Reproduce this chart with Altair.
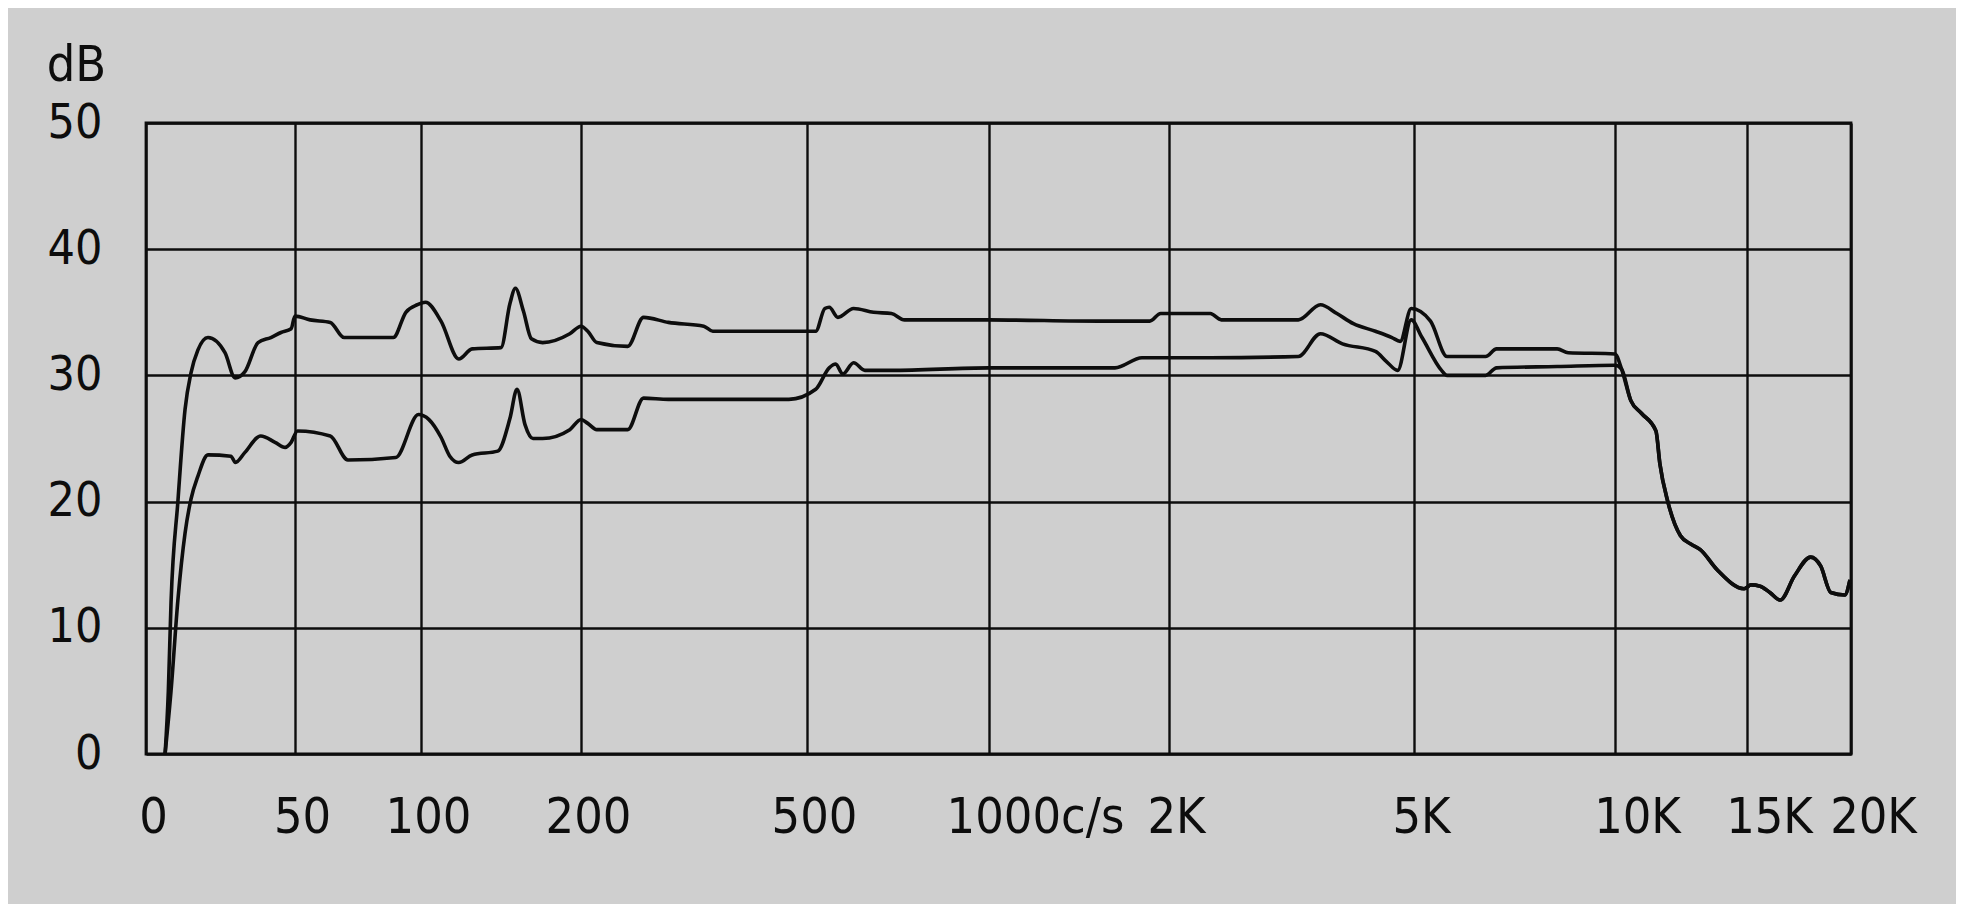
import altair as alt
import pandas as pd

# ---- data (frequency in Hz, level in dB) ----
upper_freq = [6.4, 7.5, 8.4, 10.7, 13.1, 15.1, 17.4, 20.8, 26.5, 29.9, 33.2, 37.6, 41.9, 45.3, 48.7,
              50, 56, 64, 69.5, 89, 94, 98.6, 102.8, 112.5, 123.6, 132, 150, 155.6, 159, 164, 169,
              176, 193, 200, 209, 221, 262, 283, 316, 363, 375, 524, 549, 561, 585, 628, 683, 732,
              768, 1000, 1612, 1893, 1954, 2506, 2640, 3584, 3854, 4056, 4258, 4528, 4730, 4831,
              4966, 5411, 5822, 6781, 7055, 8562, 8836, 10000]
upper_db = [0, 5, 12, 20, 27.3, 30.2, 32, 33, 31.8, 29.8, 30.3, 32.6, 33, 33.4, 33.7,
            34.7, 34.4, 34.2, 33, 33, 35, 35.6, 35.8, 34.3, 31.3, 32.1, 32.2, 35.7, 36.9, 35.1, 32.9,
            32.6, 33.3, 33.9, 33.5, 32.6, 32.3, 34.6, 34.2, 33.9, 33.5, 33.5, 35.3, 35.4, 34.6, 35.3, 35.0, 34.9,
            34.4, 34.4, 34.3, 34.3, 34.9, 34.9, 34.4, 34.4, 35.6, 34.9, 34.1, 33.5, 33.0, 32.7,
            35.3, 34.3, 31.5, 31.5, 32.1, 32.1, 31.8, 31.7]

lower_freq = [6.4, 8.4, 10.7, 13.1, 15.1, 17.4, 20.8, 28.5, 30, 33.2, 38.5, 43.3, 46.7, 48.7,
              51, 64, 71, 90, 99, 105, 112.5, 118, 123.6, 132, 148, 155.6, 160, 165, 170, 176,
              193, 200, 209, 221, 262, 283, 316, 476, 524, 561, 579, 598, 628, 659, 732, 1000,
              1612, 1700, 1850, 2506, 3584, 3854, 4124, 4528, 4663, 4800, 4966, 5200, 5685, 5822,
              6781, 7055, 8562, 10000]
lower_db = [0, 5, 12.2, 17.5, 20.2, 22, 23.7, 23.6, 23.1, 23.9, 25.2, 24.7, 24.3, 24.7,
            25.6, 25.2, 23.3, 23.5, 26.9, 26.5, 25.1, 23.6, 23.1, 23.7, 24.0, 26.6, 28.9, 26.1, 25.0, 25.0,
            25.7, 26.5, 26.2, 25.7, 25.7, 28.2, 28.1, 28.1, 28.9, 30.6, 30.9, 30.1, 31.0, 30.4, 30.4, 30.6,
            30.6, 30.6, 31.4, 31.4, 31.5, 33.3, 32.5, 31.9, 31.1, 30.4, 34.4, 33.0, 30.4, 30.0,
            30.0, 30.6, 30.7, 30.8]

# common roll-off above 10 kHz (both traces coincide)
tail_freq = [10250, 10600, 11000, 11550, 11700, 12000, 12480, 12900, 13230, 13870, 14890, 15200,
             15630, 16100, 16600, 17280, 18060, 18540, 19030, 19700, 19950]
tail_db = [30.5, 28.0, 27.0, 25.6, 23.0, 20.0, 17.3, 16.6, 16.2, 14.6, 13.1, 13.4,
           13.3, 12.8, 12.2, 14.1, 15.6, 14.9, 12.8, 12.6, 13.8]

# x axis: grid frequencies and their printed labels
grid_freqs = [0, 50, 100, 200, 500, 1000, 2000, 5000, 10000, 15000, 20000]
grid_labels = ["0", "50", "100", "200", "500", "1000c/s", "2K", "5K", "10K", "15K", "20K"]
y_ticks = [0, 10, 20, 30, 40, 50]

# ---- layout (pixels) ----
W, H = 1705, 631
grid_px = [0, 149, 275, 435, 661, 843, 1023, 1268, 1469, 1601, 1705]  # hand-drawn, non-uniform grid

rows = []
for f, d in zip(upper_freq + tail_freq, upper_db + tail_db):
    rows.append({"freq": f, "db": d, "trace": "upper"})
for f, d in zip(lower_freq + tail_freq, lower_db + tail_db):
    rows.append({"freq": f, "db": d, "trace": "lower"})
df = pd.DataFrame(rows)

label_expr = " : ".join(
    [f"datum.value == {v} ? '{t}'" for v, t in zip(grid_freqs, grid_labels)] + ["''"]
)

FONT = "DejaVu Sans Condensed"
INK = "#0d0d0d"
BG = "#cfcfcf"

x_axis = alt.Axis(
    values=grid_freqs,
    labelExpr=label_expr,
    grid=True,
    gridColor=INK,
    gridWidth=2.4,
    gridOpacity=1,
    ticks=False,
    domain=False,
    labelFont=FONT,
    labelFontSize=50,
    labelColor=INK,
    labelPadding=38,
    labelLimit=0,
    labelOffset={"condition": [{"test": "datum.value == 1000", "value": 46},
                               {"test": "datum.value >= 10000", "value": 22}],
                 "value": 7},
    labelFlush=False,
    labelOverlap=False,
    title=None,
)

y_axis = alt.Axis(
    values=y_ticks,
    grid=True,
    gridColor=INK,
    gridWidth=2.4,
    gridOpacity=1,
    ticks=False,
    domain=False,
    labelFont=FONT,
    labelFontSize=48,
    labelColor=INK,
    labelPadding=44,
    labelLimit=0,
    labelFlush=False,
    labelOverlap=False,
    title="dB",
    titleFont=FONT,
    titleFontSize=50,
    titleFontWeight="normal",
    titleColor=INK,
    titleAngle=0,
    titleAlign="center",
    titleBaseline="alphabetic",
    titleX=-70,
    titleY=-43,
)

chart = (
    alt.Chart(df)
    .mark_line(color=INK, strokeWidth=3.6, interpolate="monotone")
    .encode(
        x=alt.X("freq:Q",
                scale=alt.Scale(type="linear", domain=grid_freqs, range=grid_px, clamp=True),
                axis=x_axis),
        y=alt.Y("db:Q", scale=alt.Scale(domain=[0, 50], nice=False, zero=True), axis=y_axis),
        detail="trace:N",
        order="freq:Q",
    )
    .properties(
        width=W,
        height=H,
        background=BG,
        autosize=alt.AutoSizeParams(type="none"),
        padding={"left": 138, "top": 115, "right": 105, "bottom": 150},
    )
    .configure_view(stroke=INK, strokeWidth=2.8, fill=BG)
)

chart.save("out.html", embed_options={"renderer": "svg", "actions": False})
